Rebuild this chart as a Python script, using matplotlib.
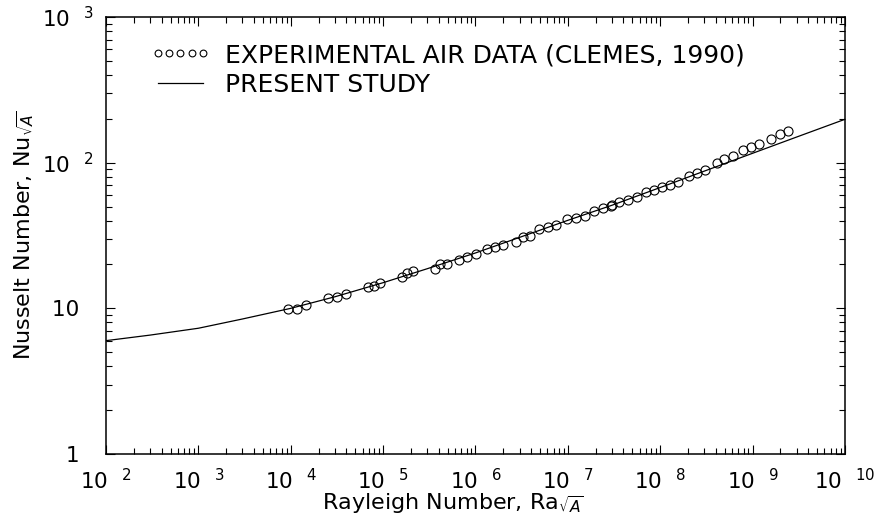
import numpy as np
import matplotlib
matplotlib.use("Agg")
import matplotlib.pyplot as plt
from matplotlib.ticker import LogLocator, FixedLocator, NullFormatter

plt.rcParams['font.family'] = ['DejaVu Sans']
plt.rcParams['mathtext.fontset'] = 'dejavusans'

# experimental air data (Clemes, 1990)
exp_ra = [9.41e3, 1.16e4, 1.445e4, 2.55e4, 3.14e4, 3.93e4, 6.86e4, 7.97e4, 9.18e4,
          1.60e5, 1.835e5, 2.09e5, 3.62e5, 4.18e5, 4.95e5, 6.63e5, 8.15e5, 1.005e6,
          1.33e6, 1.646e6, 1.985e6, 2.745e6, 3.29e6, 3.89e6, 4.91e6, 6.05e6, 7.44e6,
          9.86e6, 1.225e7, 1.52e7, 1.918e7, 2.38e7, 2.93e7, 3.005e7, 3.60e7, 4.44e7,
          5.64e7, 7.01e7, 8.56e7, 1.037e8, 1.275e8, 1.568e8, 2.03e8, 2.50e8, 3.075e8,
          4.085e8, 4.90e8, 6.085e8, 7.81e8, 9.53e8, 1.181e9, 1.593e9, 1.979e9, 2.415e9]
exp_nu = [9.90, 9.90, 10.49, 11.78, 12.02, 12.49, 13.95, 14.23, 14.92,
          16.49, 17.48, 17.96, 18.62, 20.15, 20.15, 21.47, 22.40, 23.49,
          25.55, 26.37, 27.35, 28.68, 30.73, 31.37, 34.87, 36.00, 37.33,
          40.85, 41.90, 43.04, 46.58, 48.61, 50.41, 50.97, 53.95, 55.42,
          58.38, 62.90, 64.92, 68.07, 70.26, 73.66, 80.99, 84.92, 89.04,
          99.9, 106.5, 111.1, 122.2, 127.5, 134.3, 146.0, 156.6, 165.0]

# present study curve
model_ra = [1e2, 3e2, 1e3, 3e3, 1e4, 3e4, 1e5, 3e5, 1e6, 3e6, 1e7, 3e7, 1e8, 3e8, 1e9, 3e9, 1e10]
model_nu = [6.0, 6.55, 7.3, 8.45, 10.0, 12.0, 15.0, 18.7, 24.0, 30.7, 40.2, 51.0, 67.5, 87.5, 116.0, 150.0, 198.5]

xticks = [1e2, 1e3, 1e4, 1e5, 1e6, 1e7, 1e8, 1e9, 1e10]
xlabels = ['10  $^{%d}$' % k for k in range(2, 11)]
yticks = [1, 10, 100, 1000]
# trailing spaces keep the plain labels a little off the axis, as in the original
ylabels = ['1  ', '10  ', '10  $^{2}$', '10  $^{3}$']

fig = plt.figure(figsize=(8.76, 5.31), dpi=100)
ax = fig.add_axes([0.121, 0.145, 0.8436, 0.823])

ax.plot(exp_ra, exp_nu, linestyle='none', marker='o', markersize=6.5,
        markerfacecolor='none', markeredgecolor='black', markeredgewidth=0.8,
        label='EXPERIMENTAL AIR DATA (CLEMES, 1990)')
ax.plot(model_ra, model_nu, color='black', linewidth=0.9, label='PRESENT STUDY')

ax.set_xscale('log')
ax.set_yscale('log')
ax.set_xlim(1e2, 1e10)
ax.set_ylim(1, 1e3)

ax.xaxis.set_major_locator(FixedLocator(xticks))
ax.set_xticklabels(xlabels)
ax.yaxis.set_major_locator(FixedLocator(yticks))
ax.set_yticklabels(ylabels)
ax.xaxis.set_minor_locator(LogLocator(base=10, subs=np.arange(2, 10), numticks=20))
ax.yaxis.set_minor_locator(LogLocator(base=10, subs=np.arange(2, 10), numticks=20))
ax.xaxis.set_minor_formatter(NullFormatter())
ax.yaxis.set_minor_formatter(NullFormatter())

ax.tick_params(which='both', direction='in', top=True, right=True, width=0.8, labelsize=15.5)
ax.tick_params(which='major', length=6.5)
ax.tick_params(which='minor', length=4)
ax.tick_params(axis='x', which='major', pad=10)
ax.tick_params(axis='y', which='major', pad=9)
for s in ax.spines.values():
    s.set_linewidth(1.1)

ax.set_xlabel(r'Rayleigh Number, Ra$_{\sqrt{A}}$', fontsize=16)
ax.xaxis.set_label_coords(0.47, -0.085)
ax.set_ylabel(r'Nusselt Number, Nu$_{\sqrt{A}}$', fontsize=16, labelpad=4)

ax.legend(loc='upper left', bbox_to_anchor=(0.06, 0.94), frameon=False, numpoints=5,
          markerscale=0.75, handlelength=2.4, handletextpad=0.6, labelspacing=0.22,
          fontsize=18, borderpad=0, borderaxespad=0)

fig.savefig('out.png', dpi=100)
